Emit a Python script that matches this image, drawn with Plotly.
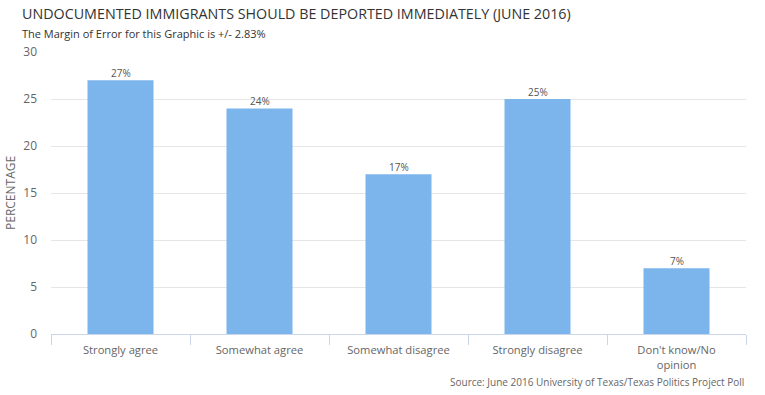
import plotly.graph_objects as go

categories = ["Strongly agree", "Somewhat agree", "Somewhat disagree", "Strongly disagree", "Don't know/No<br>opinion"]
values = [27, 24, 17, 25, 7]
labels = [f"{v}%" for v in values]
y_ticks = [0, 5, 10, 15, 20, 25, 30]

FONT = "Open Sans, Lato, sans-serif"
W, H = 765, 395
L, R, T, B = 51, 19, 52, 61
PW, PH = W - L - R, H - T - B


def px_x(x):
    return (x - L) / PW


def px_y(y):
    return 1 - (y - T) / PH


fig = go.Figure(go.Bar(
    x=categories, y=values,
    marker=dict(color="#7cb5ec", line=dict(width=0)),
    hoverinfo="skip",
))

value_labels = [
    dict(x=c, y=v, text=t, xref="x", yref="y", yanchor="middle", yshift=7,
         showarrow=False, font=dict(family=FONT, size=10, color="#555555"))
    for c, v, t in zip(categories, values, labels)
]

fig.update_layout(
    width=W, height=H,
    margin=dict(l=L, r=R, t=T, b=B, pad=0, autoexpand=False),
    paper_bgcolor="white", plot_bgcolor="white",
    bargap=0.525,
    showlegend=False,
    font=dict(family=FONT, color="#666666"),
    annotations=value_labels + [
        dict(text="UNDOCUMENTED IMMIGRANTS SHOULD BE DEPORTED IMMEDIATELY (JUNE 2016)",
             xref="paper", yref="paper", x=px_x(20), y=px_y(14), xanchor="left", yanchor="middle",
             showarrow=False, font=dict(family=FONT, size=14.3, color="#333333")),
        dict(text="The Margin of Error for this Graphic is +/- 2.83%",
             xref="paper", yref="paper", x=px_x(20), y=px_y(33), xanchor="left", yanchor="middle",
             showarrow=False, font=dict(family=FONT, size=11, color="#333333")),
        dict(text="Source: June 2016 University of Texas/Texas Politics Project Poll",
             xref="paper", yref="paper", x=1, y=px_y(382), xanchor="right", yanchor="middle",
             showarrow=False, font=dict(family=FONT, size=10, color="#666666")),
        dict(text="PERCENTAGE", textangle=-90,
             xref="paper", yref="paper", x=px_x(10), y=0.5, xanchor="center", yanchor="middle",
             showarrow=False, font=dict(family=FONT, size=12, color="#666666")),
    ],
)

fig.update_xaxes(
    automargin=False,
    tickson="boundaries", ticks="outside", ticklen=10, tickcolor="#ccd6eb",
    showline=True, linecolor="#ccd6eb", linewidth=1, showgrid=False,
    ticklabelstandoff=6,
    tickfont=dict(family=FONT, size=11.2, color="#666666"),
)
fig.update_yaxes(
    automargin=False,
    range=[0, 30], tickvals=y_ticks, showgrid=True, gridcolor="#e6e6e6",
    zeroline=False, showline=False, ticks="", ticklabelstandoff=13,
    tickfont=dict(family=FONT, size=12, color="#666666"),
)

fig.write_html(
    "out.html",
    config={"displayModeBar": False, "staticPlot": True},
    post_script="document.body.style.margin='0';document.body.style.overflow='hidden';",
)
